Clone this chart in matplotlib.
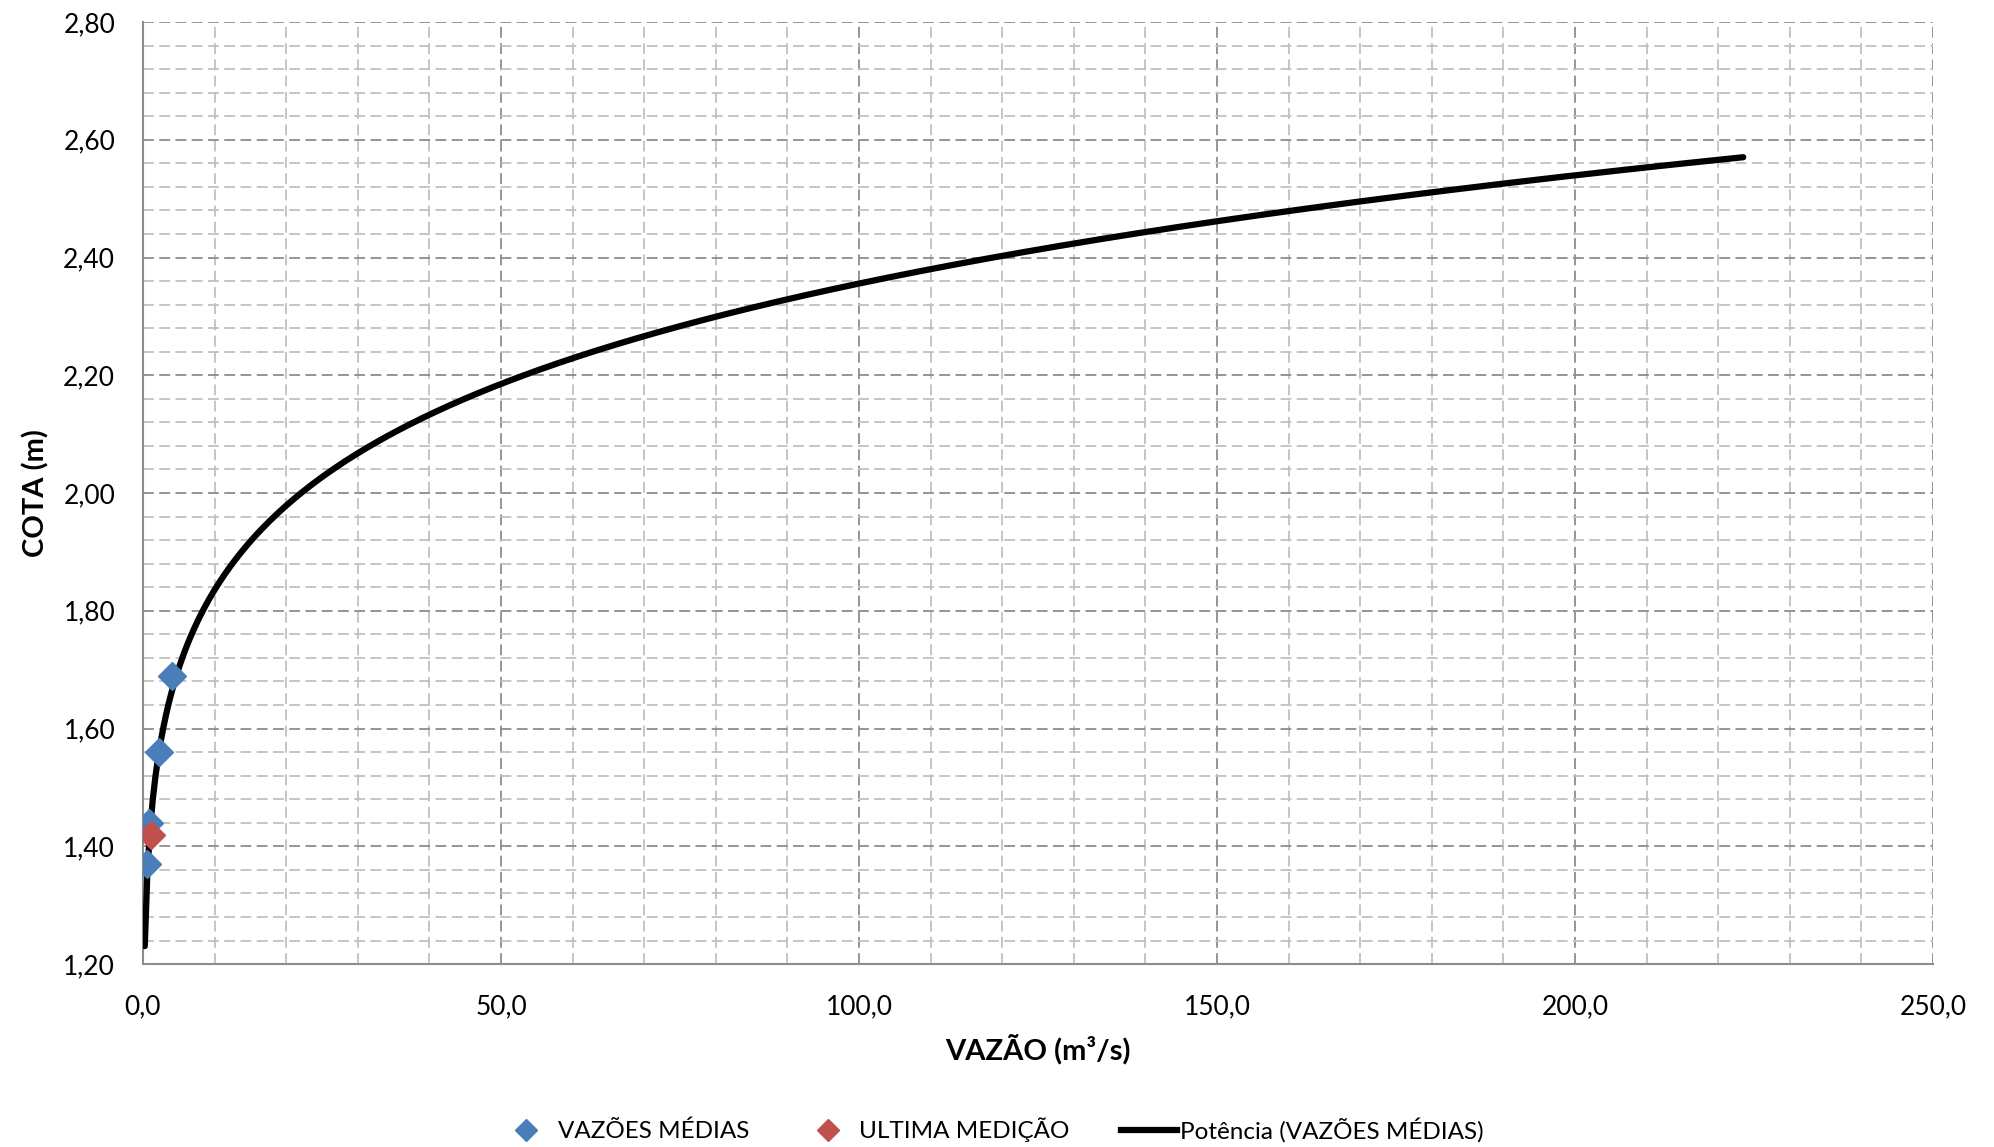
import numpy as np
import matplotlib
matplotlib.use("Agg")
import matplotlib.pyplot as plt
from matplotlib.ticker import MultipleLocator, FuncFormatter
from matplotlib.lines import Line2D

plt.rcParams['font.family'] = ['Lato', 'DejaVu Sans']

# medições (vazão m3/s, cota m)
vazao_medias = [0.6, 0.8, 2.3, 4.0]
cota_medias = [1.37, 1.44, 1.56, 1.69]
vazao_ultima = [1.07]
cota_ultima = [1.42]

# linha de tendência potência (y = a * x^b)
trend_a = 1.43
trend_b = 0.1084
trend_x_ini = 0.25
trend_x_fim = 223.5

fig = plt.figure(figsize=(19.94, 11.47), dpi=100)
ax = fig.add_axes([0.0717, 0.1595, 0.8977, 0.8213])

xs = np.linspace(trend_x_ini, trend_x_fim, 600)
ax.plot(xs, trend_a * xs ** trend_b, color='black', lw=4.5, zorder=3,
        solid_capstyle='round')
ax.plot(vazao_medias, cota_medias, 'D', color='#4a7ebb', ms=14, mec='#4a7ebb', zorder=4)
ax.plot(vazao_ultima, cota_ultima, 'D', color='#c0504d', ms=14, mec='#c0504d', zorder=5)

ax.set_xlim(0, 250)
ax.set_ylim(1.20, 2.80)
ax.xaxis.set_major_locator(MultipleLocator(50))
ax.xaxis.set_minor_locator(MultipleLocator(10))
ax.yaxis.set_major_locator(MultipleLocator(0.2))
ax.yaxis.set_minor_locator(MultipleLocator(0.04))
ax.xaxis.set_major_formatter(FuncFormatter(lambda v, p: f"{v:.1f}".replace('.', ',')))
ax.yaxis.set_major_formatter(FuncFormatter(lambda v, p: f"{v:.2f}".replace('.', ',')))

ax.grid(which='major', color='#8c8c8c', ls=(0, (6, 3)), lw=1.3)
ax.grid(which='minor', color='#c0c0c0', ls=(0, (6, 3)), lw=1.3)
ax.set_axisbelow(True)
ax.tick_params(which='both', length=0, labelsize=19)
ax.tick_params(axis='x', pad=22)
ax.tick_params(axis='y', pad=20)
for s in ['top', 'right']:
    ax.spines[s].set_visible(False)
for s in ['left', 'bottom']:
    ax.spines[s].set_color('#8c8c8c')
    ax.spines[s].set_linewidth(1.5)

ax.set_xlabel('VAZÃO (m³/s)', fontsize=21, fontweight='bold', labelpad=10)
ax.set_ylabel('COTA (m)', fontsize=21, fontweight='bold', labelpad=10)

handles = [
    Line2D([], [], marker='D', ls='', color='#4a7ebb', ms=11),
    Line2D([], [], marker='D', ls='', color='#c0504d', ms=11),
    Line2D([], [], color='black', lw=4.5),
]
labels = ['VAZÕES MÉDIAS', 'ULTIMA MEDIÇÃO', 'Potência (VAZÕES MÉDIAS)']
fig.legend(handles, labels, loc='center', bbox_to_anchor=(0.497, 0.0150),
           ncol=3, frameon=False, fontsize=17.5, handlelength=2.3,
           columnspacing=2.1, handletextpad=0.15)

fig.savefig('out.png', dpi=100)
